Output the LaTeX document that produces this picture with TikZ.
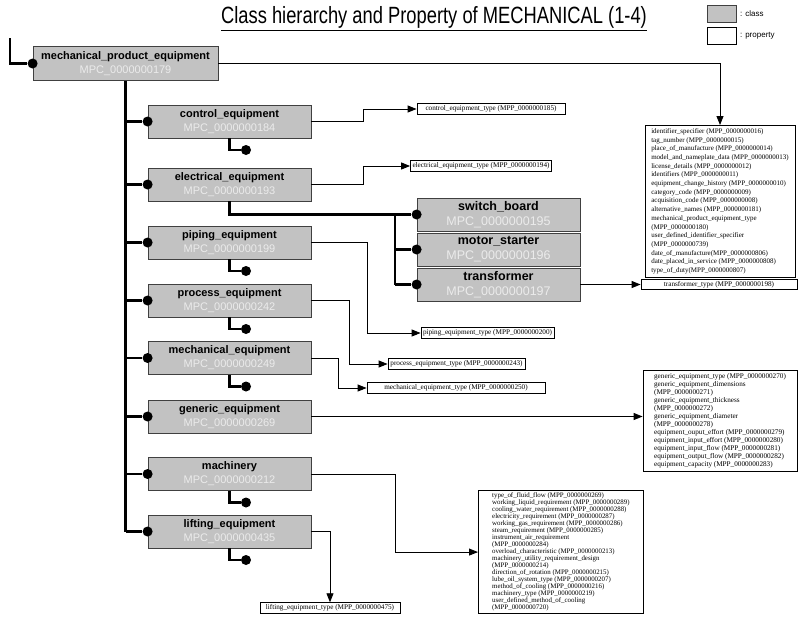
\documentclass[tikz,border=0pt]{standalone}
\usepackage{fontspec}
\setmainfont{Liberation Sans}
\newfontfamily\propfont{Liberation Serif}
\newfontfamily\titlefont[FakeStretch=0.78]{Liberation Sans}
\usetikzlibrary{arrows.meta,positioning}

\definecolor{clsgray}{gray}{0.76}
\definecolor{mpcgray}{gray}{0.92}

\newcommand{\mpc}[1]{\textcolor{mpcgray}{\mdseries MPC\_#1}}

\tikzset{
  cls/.style={draw=black!75, line width=0.8pt, fill=clsgray, minimum width=163pt,
    minimum height=33pt, inner sep=0pt, align=center,
    font=\bfseries\fontsize{11}{14}\selectfont},
  subcls/.style={cls, font=\bfseries\fontsize{12.5}{15}\selectfont},
  prop/.style={draw, line width=0.8pt, fill=white, inner sep=2pt, align=left,
    font=\propfont\fontsize{7.2}{8.5}\selectfont},
  joint/.style={circle, fill=black, inner sep=0pt, minimum size=10pt},
  treeline/.style={line width=2.4pt},
  conn/.style={line width=0.9pt, -{Triangle[length=9pt,width=7pt]}},
}

\begin{document}
\begin{tikzpicture}[x=1pt, y=-1pt]
    \useasboundingbox (0,0) rectangle (800,627);

    % Titolo e legenda
    \node[font=\titlefont\fontsize{23.5}{26}\selectfont] (title) at (434,18.5)
        {\underline{Class hierarchy and Property of MECHANICAL (1-4)}};
    \node[cls, minimum width=29pt, minimum height=17pt] (lg-cls) at (722,13.5) {};
    \node[prop, minimum width=29pt, minimum height=17pt] (lg-prop) at (722,35.5) {};
    \node[right=2pt of lg-cls, inner sep=1pt, font=\fontsize{8}{9}\selectfont] (lg-cls-t) {: class};
    \node[right=2pt of lg-prop, inner sep=1pt, font=\fontsize{8}{9}\selectfont] (lg-prop-t) {: property};

    % Classi
    \node[cls, minimum width=185pt, minimum height=34pt] (mpe) at (125.5,63.5)
        {mechanical\_product\_equipment\\\mpc{0000000179}};
    \node[cls] (ctl)  at (229.5,121.5) {control\_equipment\\\mpc{0000000184}};
    \node[cls] (ele)  at (229.5,184.5) {electrical\_equipment\\\mpc{0000000193}};
    \node[cls] (pip)  at (229.5,242.5) {piping\_equipment\\\mpc{0000000199}};
    \node[cls] (pro)  at (229.5,300.5) {process\_equipment\\\mpc{0000000242}};
    \node[cls] (mec)  at (229.5,358)   {mechanical\_equipment\\\mpc{0000000249}};
    \node[cls] (gen)  at (229.5,416.5) {generic\_equipment\\\mpc{0000000269}};
    \node[cls] (mach) at (229.5,474)   {machinery\\\mpc{0000000212}};
    \node[cls] (lift) at (229.5,531.5) {lifting\_equipment\\\mpc{0000000435}};

    % Sottoclassi di electrical_equipment
    \node[subcls] (swb) at (498.5,214.5) {switch\_board\\\mpc{0000000195}};
    \node[subcls] (mst) at (498.5,249.5) {motor\_starter\\\mpc{0000000196}};
    \node[subcls] (trf) at (498.5,284.5) {transformer\\\mpc{0000000197}};

    % Pallini
    \foreach \n in {mpe,ctl,ele,pip,pro,mec,gen,mach,lift,swb,mst,trf}
        \node[joint] (\n-dot) at (\n.west) {};
    \node[joint] (ctl-end)  at (246,150)   {};
    \node[joint] (pip-end)  at (246,271)   {};
    \node[joint] (pro-end)  at (246,329)   {};
    \node[joint] (mec-end)  at (246,386.5) {};
    \node[joint] (mach-end) at (246,502.5) {};
    \node[joint] (lift-end) at (246,560)   {};

    % Albero
    \coordinate (start) at (10,38);
    \coordinate (ele-fork) at (395,200);
    \draw[treeline] (start) |- (mpe-dot);
    \draw[treeline] (mpe.south) -- (mpe.south |- lift-dot);
    \foreach \n in {ctl,ele,pip,pro,mec,gen,mach,lift}
        \draw[treeline] (mpe.south |- \n-dot) -- (\n-dot);
    \foreach \n in {ctl,pip,pro,mec,mach,lift}
        \draw[treeline] (\n.south) |- (\n-end);
    \draw[treeline] (ele.south) |- (swb-dot);
    \draw[treeline] (ele-fork |- swb-dot) -- (ele-fork |- trf-dot);
    \draw[treeline] (ele-fork |- mst-dot) -- (mst-dot);
    \draw[treeline] (ele-fork |- trf-dot) -- (trf-dot);

    % Proprieta
    \node[prop, anchor=north, minimum width=150pt, inner sep=3pt,
          font=\propfont\fontsize{7}{8.7}\selectfont] (mpe-p) at (720,125)
        {identifier\_specifier (MPP\_0000000016)\\
         tag\_number (MPP\_0000000015)\\
         place\_of\_manufacture (MPP\_0000000014)\\
         model\_and\_nameplate\_data (MPP\_0000000013)\\
         license\_details (MPP\_0000000012)\\
         identifiers (MPP\_0000000011)\\
         equipment\_change\_history (MPP\_0000000010)\\
         category\_code (MPP\_0000000009)\\
         acquisition\_code (MPP\_0000000008)\\
         alternative\_names (MPP\_0000000181)\\
         mechanical\_product\_equipment\_type\\
         (MPP\_0000000180)\\
         user\_defined\_identifier\_specifier\\
         (MPP\_0000000739)\\
         date\_of\_manufacture(MPP\_0000000806)\\
         date\_placed\_in\_service (MPP\_0000000808)\\
         type\_of\_duty(MPP\_0000000807)};
    \node[prop, minimum width=148pt] (ctl-p) at (491,109)   {control\_equipment\_type (MPP\_0000000185)};
    \node[prop, minimum width=128pt] (ele-p) at (481,166)   {electrical\_equipment\_type (MPP\_0000000194)};
    \node[prop, minimum width=156pt] (trf-p) at (719,284.5) {transformer\_type (MPP\_0000000198)};
    \node[prop, minimum width=125pt] (pip-p) at (487.5,333) {piping\_equipment\_type (MPP\_0000000200)};
    \node[prop, minimum width=137pt] (pro-p) at (456.5,364) {process\_equipment\_type (MPP\_0000000243)};
    \node[prop, minimum width=178pt] (mec-p) at (456,388)   {mechanical\_equipment\_type (MPP\_0000000250)};
    \node[prop, minimum width=140pt] (lift-p) at (330,608)  {lifting\_equipment\_type (MPP\_0000000475)};
    \node[prop, anchor=north, minimum width=154pt, inner sep=3pt,
          font=\propfont\fontsize{7.2}{8}\selectfont] (gen-p) at (720,370)
        {generic\_equipment\_type (MPP\_0000000270)\\
         generic\_equipment\_dimensions\\
         (MPP\_0000000271)\\
         generic\_equipment\_thickness\\
         (MPP\_0000000272)\\
         generic\_equipment\_diameter\\
         (MPP\_0000000278)\\
         equipment\_ouput\_effort (MPP\_0000000279)\\
         equipment\_input\_effort (MPP\_0000000280)\\
         equipment\_input\_flow (MPP\_0000000281)\\
         equipment\_output\_flow (MPP\_0000000282)\\
         equipment\_capacity (MPP\_0000000283)};
    \node[prop, anchor=north west, minimum width=165pt, inner sep=2.5pt,
          font=\propfont\fontsize{6.9}{7}\selectfont] (mach-p) at (478,490)
        {type\_of\_fluid\_flow (MPP\_0000000269)\\
         working\_liquid\_requirement (MPP\_0000000289)\\
         cooling\_water\_requirement (MPP\_0000000288)\\
         electricity\_requirement (MPP\_0000000287)\\
         working\_gas\_requirement (MPP\_0000000286)\\
         steam\_requirement (MPP\_0000000285)\\
         instrument\_air\_requirement\\
         (MPP\_0000000284)\\
         overload\_characteristic (MPP\_0000000213)\\
         machinery\_utility\_requirement\_design\\
         (MPP\_0000000214)\\
         direction\_of\_rotation (MPP\_0000000215)\\
         lube\_oil\_system\_type (MPP\_0000000207)\\
         method\_of\_cooling (MPP\_0000000216)\\
         machinery\_type (MPP\_0000000219)\\
         user\_defined\_method\_of\_cooling\\
         (MPP\_0000000720)};

    % Collegamenti alle proprieta
    \draw[conn] (mpe.east) -| (mpe-p.north);
    \draw[conn] (ctl.east) -- ++(52,0) |- (ctl-p.west);
    \draw[conn] (ele.east) -- ++(52,0) |- (ele-p.west);
    \draw[conn] (pip.east) -- ++(56,0) |- (pip-p.west);
    \draw[conn] (pro.east) -- ++(38,0) |- (pro-p.west);
    \draw[conn] (mec.east) -- ++(27,0) |- (mec-p.west);
    \draw[conn] (gen.east) -- (gen.east -| gen-p.west);
    \draw[conn] (mach.east) -- ++(84,0) |- (mach-p.west);
    \draw[conn] (lift.east) -| (lift-p.north);
    \draw[conn] (trf.east) -- (trf-p.west);
\end{tikzpicture}
\end{document}
